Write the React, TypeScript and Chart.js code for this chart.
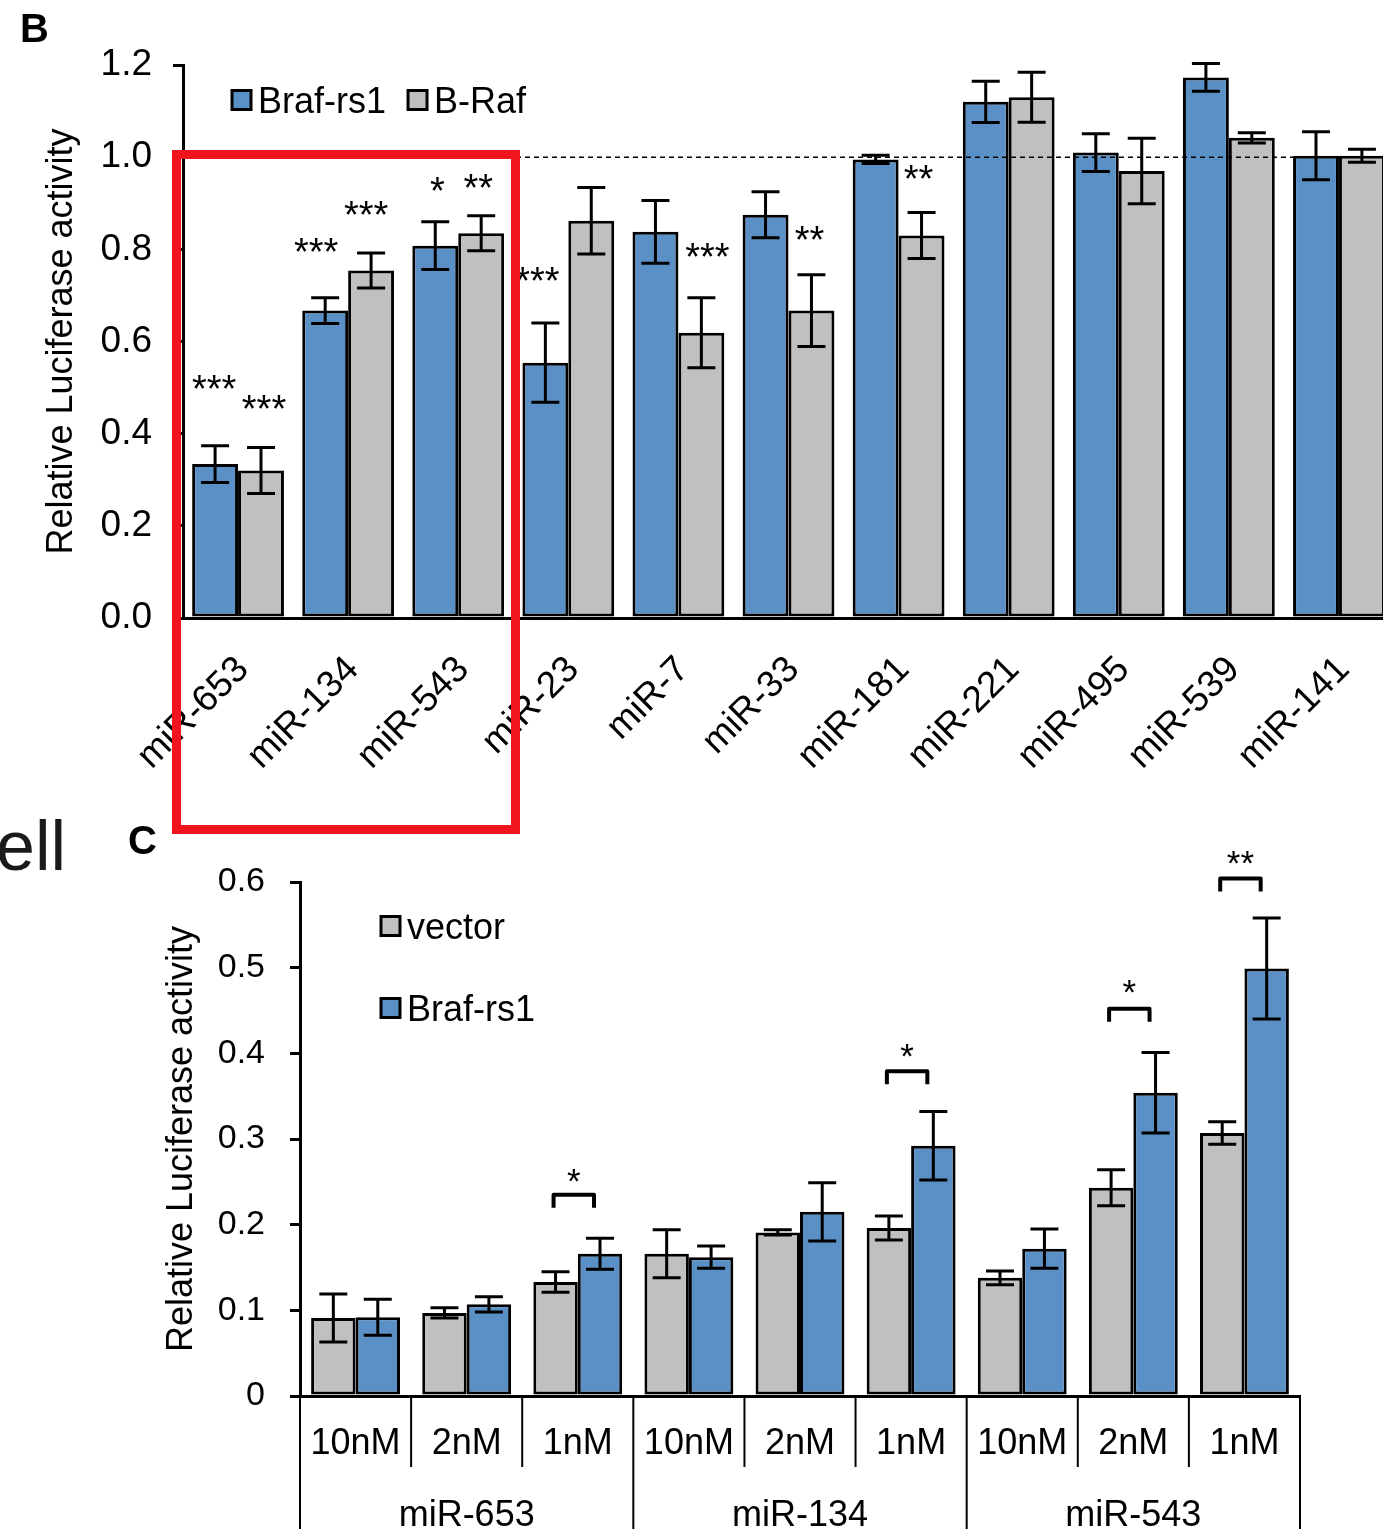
import React, { useEffect, useRef } from 'react';
import { Chart, registerables } from 'chart.js';

Chart.register(...registerables);

const FONT = '"Liberation Sans", Arial, Helvetica, sans-serif';
const BLUE = '#5b90c6';
const GRAY = '#c0c0c0';

// ---------- Panel B ----------
const bCategories = ['miR-653', 'miR-134', 'miR-543', 'miR-23', 'miR-7', 'miR-33', 'miR-181', 'miR-221', 'miR-495', 'miR-539', 'miR-141'];
const bBrafRs1 = [0.334, 0.667, 0.808, 0.554, 0.838, 0.875, 0.995, 1.12, 1.01, 1.173, 1.003];
const bBrafRs1Err = [0.04, 0.028, 0.052, 0.086, 0.068, 0.05, 0.009, 0.045, 0.041, 0.03, 0.052];
const bBRaf = [0.32, 0.754, 0.835, 0.862, 0.619, 0.667, 0.83, 1.13, 0.97, 1.042, 1.003];
const bBRafErr = [0.05, 0.038, 0.038, 0.072, 0.076, 0.078, 0.05, 0.054, 0.071, 0.011, 0.014];
const bYTicks = [0, 0.2, 0.4, 0.6, 0.8, 1.0, 1.2];
const bReference = 1.0;
// significance marks: category, bar (0 = Braf-rs1, 1 = B-Raf), text, value level
const bSigCat = [0, 0, 1, 1, 2, 2, 3, 4, 5, 6];
const bSigBar = [0, 1, 0, 1, 0, 1, 0, 1, 1, 1];
const bSigText = ['***', '***', '***', '***', '*', '**', '***', '***', '**', '**'];
const bSigLevel = [0.515, 0.471, 0.812, 0.892, 0.945, 0.951, 0.749, 0.801, 0.838, 0.971];
const bSigShift = [-1, 3, -9, -5, 2, -3, -8, 6, -2, -3];

// ---------- Panel C ----------
const cDoses = ['10nM', '2nM', '1nM', '10nM', '2nM', '1nM', '10nM', '2nM', '1nM'];
const cGroups = ['miR-653', 'miR-134', 'miR-543'];
const cVector = [0.091, 0.097, 0.133, 0.166, 0.191, 0.196, 0.138, 0.243, 0.307];
const cVectorErr = [0.028, 0.006, 0.012, 0.028, 0.003, 0.014, 0.008, 0.021, 0.013];
const cBrafRs1 = [0.092, 0.107, 0.166, 0.162, 0.215, 0.292, 0.172, 0.354, 0.499];
const cBrafRs1Err = [0.021, 0.009, 0.018, 0.013, 0.034, 0.04, 0.023, 0.047, 0.059];
const cYTicks = [0, 0.1, 0.2, 0.3, 0.4, 0.5, 0.6];
const cSigCat = [2, 5, 7, 8];
const cSigText = ['*', '*', '*', '**'];
const cSigBracket = [0.235, 0.379, 0.452, 0.604];
const cSigLevel = [0.26, 0.405, 0.48, 0.631];

function drawErrorBars(chart: any, errs: number[][], capHalf: number) {
  const ctx = chart.ctx;
  const ys = chart.scales.y;
  ctx.save();
  ctx.strokeStyle = '#000';
  ctx.lineWidth = 3;
  chart.data.datasets.forEach((ds: any, di: number) => {
    const meta = chart.getDatasetMeta(di);
    meta.data.forEach((el: any, i: number) => {
      const v = ds.data[i] as number;
      const e = errs[di][i];
      const x = el.x;
      const yt = ys.getPixelForValue(v + e);
      const yb = ys.getPixelForValue(v - e);
      ctx.beginPath();
      ctx.moveTo(x, yt);
      ctx.lineTo(x, yb);
      ctx.moveTo(x - capHalf, yt);
      ctx.lineTo(x + capHalf, yt);
      ctx.moveTo(x - capHalf, yb);
      ctx.lineTo(x + capHalf, yb);
      ctx.stroke();
    });
  });
  ctx.restore();
}

function drawLegendItem(ctx: any, x: number, yc: number, color: string, text: string) {
  const size = 19;
  ctx.save();
  ctx.fillStyle = color;
  ctx.fillRect(x, yc - size / 2, size, size);
  ctx.lineWidth = 3;
  ctx.strokeStyle = '#000';
  ctx.strokeRect(x, yc - size / 2, size, size);
  ctx.fillStyle = '#000';
  ctx.font = `36px ${FONT}`;
  ctx.textAlign = 'left';
  ctx.textBaseline = 'alphabetic';
  ctx.fillText(text, x + size + 7, yc + 13);
  const w = ctx.measureText(text).width;
  ctx.restore();
  return size + 7 + w;
}

function drawStars(ctx: any, text: string, x: number, yCenter: number, size: number) {
  ctx.save();
  ctx.fillStyle = '#000';
  ctx.font = `${size}px ${FONT}`;
  ctx.textAlign = 'center';
  ctx.textBaseline = 'alphabetic';
  ctx.fillText(text, x, yCenter + 0.553 * size);
  ctx.restore();
}

const panelBPlugin = {
  id: 'panelB',
  afterDatasetsDraw(chart: any) {
    const ctx = chart.ctx;
    const area = chart.chartArea;
    const ys = chart.scales.y;
    // reference line
    ctx.save();
    ctx.strokeStyle = '#000';
    ctx.lineWidth = 1.5;
    ctx.setLineDash([5, 4]);
    const yr = ys.getPixelForValue(bReference);
    ctx.beginPath();
    ctx.moveTo(area.left, yr);
    ctx.lineTo(area.right, yr);
    ctx.stroke();
    ctx.restore();
    drawErrorBars(chart, [bBrafRs1Err, bBRafErr], 14);
    bSigCat.forEach((c, k) => {
      const el = chart.getDatasetMeta(bSigBar[k]).data[c];
      drawStars(ctx, bSigText[k], el.x + bSigShift[k], ys.getPixelForValue(bSigLevel[k]), 38);
    });
    const lx = area.left + 49;
    const ly = area.top + 35;
    const w = drawLegendItem(ctx, lx, ly, BLUE, 'Braf-rs1');
    drawLegendItem(ctx, lx + w + 22, ly, GRAY, 'B-Raf');
  },
};

const panelCPlugin = {
  id: 'panelC',
  afterDatasetsDraw(chart: any) {
    const ctx = chart.ctx;
    const area = chart.chartArea;
    const ys = chart.scales.y;
    const xs = chart.scales.x;
    drawErrorBars(chart, [cVectorErr, cBrafRs1Err], 14);
    // brackets
    cSigCat.forEach((c, k) => {
      const g = chart.getDatasetMeta(0).data[c];
      const b = chart.getDatasetMeta(1).data[c];
      const x0 = g.x - 2;
      const x1 = b.x - 6;
      const yt = ys.getPixelForValue(cSigBracket[k]);
      ctx.save();
      ctx.strokeStyle = '#000';
      ctx.lineWidth = 4;
      ctx.lineJoin = 'round';
      ctx.beginPath();
      ctx.moveTo(x0, yt + 13);
      ctx.lineTo(x0, yt);
      ctx.lineTo(x1, yt);
      ctx.lineTo(x1, yt + 13);
      ctx.stroke();
      ctx.restore();
      drawStars(ctx, cSigText[k], (x0 + x1) / 2, ys.getPixelForValue(cSigLevel[k]), 35);
    });
    // legend
    drawLegendItem(ctx, area.left + 81, area.top + 44, GRAY, 'vector');
    drawLegendItem(ctx, area.left + 81, area.top + 126, BLUE, 'Braf-rs1');
    // two-level category axis
    const n = cDoses.length;
    const bottom = area.bottom;
    const full = chart.height;
    const boundary = (i: number) => {
      if (i <= 0) return area.left;
      if (i >= n) return area.right;
      return (xs.getPixelForValue(i - 1) + xs.getPixelForValue(i)) / 2;
    };
    ctx.save();
    ctx.strokeStyle = '#000';
    ctx.lineWidth = 2;
    for (let i = 0; i <= n; i++) {
      const x = boundary(i);
      ctx.beginPath();
      ctx.moveTo(x, bottom);
      ctx.lineTo(x, i % 3 === 0 ? full : bottom + 71);
      ctx.stroke();
    }
    ctx.fillStyle = '#000';
    ctx.font = `36px ${FONT}`;
    ctx.textAlign = 'center';
    ctx.textBaseline = 'alphabetic';
    cDoses.forEach((d, i) => {
      ctx.fillText(d, xs.getPixelForValue(i), bottom + 58);
    });
    cGroups.forEach((g, gi) => {
      const x = (boundary(gi * 3) + boundary(gi * 3 + 3)) / 2;
      ctx.fillText(g, x, bottom + 130);
    });
    ctx.restore();
  },
};

export default function App() {
  const refB = useRef<HTMLCanvasElement>(null);
  const refC = useRef<HTMLCanvasElement>(null);

  useEffect(() => {
    const chartB = new Chart(refB.current as HTMLCanvasElement, {
      type: 'bar',
      data: {
        labels: bCategories,
        datasets: [
          { label: 'Braf-rs1', data: bBrafRs1, backgroundColor: BLUE, borderColor: '#000', borderWidth: 3, borderSkipped: false, categoryPercentage: 0.834, barPercentage: 1 },
          { label: 'B-Raf', data: bBRaf, backgroundColor: GRAY, borderColor: '#000', borderWidth: 3, borderSkipped: false, categoryPercentage: 0.834, barPercentage: 1 },
        ],
      },
      options: {
        responsive: false,
        animation: false,
        devicePixelRatio: 1,
        layout: { padding: { top: 65, left: 0, right: 16, bottom: 0 } },
        plugins: { legend: { display: false }, tooltip: { enabled: false } },
        scales: {
          x: {
            grid: { display: false, drawTicks: false },
            border: { display: true, color: '#000', width: 3 },
            ticks: { color: '#000', font: { family: FONT, size: 37 }, minRotation: 45, maxRotation: 45, autoSkip: false, padding: 30, labelOffset: 5 },
            afterFit: (s: any) => { s.height = 182; },
          },
          y: {
            min: 0,
            max: 1.2,
            afterBuildTicks: (s: any) => { s.ticks = bYTicks.map((v) => ({ value: v })); },
            grid: { display: true, drawOnChartArea: false, drawTicks: true, tickLength: 10, color: '#000', lineWidth: 3 },
            border: { display: true, color: '#000', width: 3 },
            ticks: { color: '#000', font: { family: FONT, size: 37 }, padding: 21, callback: (v: any) => Number(v).toFixed(1) },
            title: { display: true, text: 'Relative Luciferase activity', color: '#000', font: { family: FONT, size: 36 }, padding: { top: 40, bottom: 0 } },
            afterFit: (s: any) => { s.width = 183; },
          },
        },
      },
      plugins: [panelBPlugin],
    } as any);

    const chartC = new Chart(refC.current as HTMLCanvasElement, {
      type: 'bar',
      data: {
        labels: cDoses,
        datasets: [
          { label: 'vector', data: cVector, backgroundColor: GRAY, borderColor: '#000', borderWidth: 3, borderSkipped: false, categoryPercentage: 0.8, barPercentage: 1 },
          { label: 'Braf-rs1', data: cBrafRs1, backgroundColor: BLUE, borderColor: '#000', borderWidth: 3, borderSkipped: false, categoryPercentage: 0.8, barPercentage: 1 },
        ],
      },
      options: {
        responsive: false,
        animation: false,
        devicePixelRatio: 1,
        layout: { padding: { top: 52, left: 0, right: 83, bottom: 0 } },
        plugins: { legend: { display: false }, tooltip: { enabled: false } },
        scales: {
          x: {
            grid: { display: false, drawTicks: false },
            border: { display: true, color: '#000', width: 3 },
            ticks: { display: false },
            afterFit: (s: any) => { s.height = 133; },
          },
          y: {
            min: 0,
            max: 0.6,
            afterBuildTicks: (s: any) => { s.ticks = cYTicks.map((v) => ({ value: v })); },
            grid: { display: true, drawOnChartArea: false, drawTicks: true, tickLength: 10, color: '#000', lineWidth: 3 },
            border: { display: true, color: '#000', width: 3 },
            ticks: { color: '#000', font: { family: FONT, size: 34 }, padding: 25, callback: (v: any) => (Number(v) === 0 ? '0' : Number(v).toFixed(1)) },
            title: { display: true, text: 'Relative Luciferase activity', color: '#000', font: { family: FONT, size: 36 }, padding: { top: 160, bottom: 0 } },
            afterFit: (s: any) => { s.width = 300; },
          },
        },
      },
      plugins: [panelCPlugin],
    } as any);

    return () => {
      chartB.destroy();
      chartC.destroy();
    };
  }, []);

  return (
    <div style={{ position: 'fixed', left: 0, top: 0, width: 1383, height: 1529, overflow: 'hidden', background: '#fff' }}>
      <canvas ref={refB} width={1410} height={800} style={{ position: 'absolute', left: 0, top: 0, width: 1410, height: 800 }} />
      <canvas ref={refC} width={1383} height={699} style={{ position: 'absolute', left: 0, top: 830, width: 1383, height: 699 }} />
      <div style={{ position: 'absolute', left: 20, top: 8, font: `bold 40px/40px ${FONT}`, color: '#000' }}>B</div>
      <div style={{ position: 'absolute', left: 128, top: 820, font: `bold 40px/40px ${FONT}`, color: '#000' }}>C</div>
      <div style={{ position: 'absolute', left: -4, top: 811, font: `70px/70px ${FONT}`, color: '#1a1a1a' }}>ell</div>
      <div style={{ position: 'absolute', left: 172, top: 150, width: 348, height: 684, boxSizing: 'border-box', border: '9px solid #f0141e' }} />
    </div>
  );
}
